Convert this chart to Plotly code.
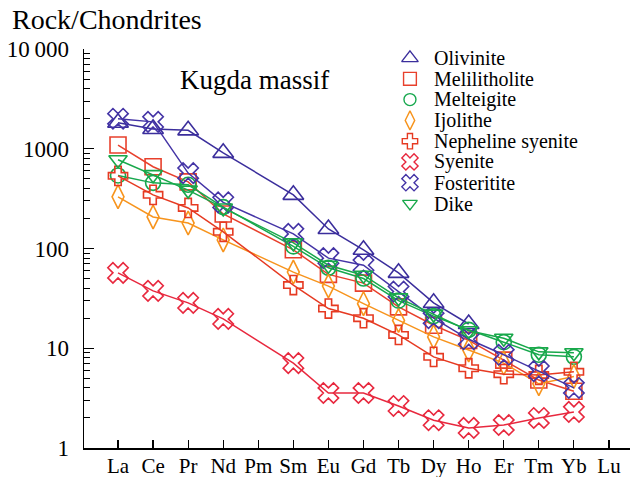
import plotly.graph_objects as go

ELEMENTS = ["La", "Ce", "Pr", "Nd", "Pm", "Sm", "Eu", "Gd", "Tb", "Dy", "Ho", "Er", "Tm", "Yb", "Lu"]

olivinite = [1820, 1580, 1530, 910, None, 345, 157, 97, 57, 28.5, 17.5, None, None, None, None]
melilitholite = [1090, 660, 465, 222, None, 97, 55, 45, 26, 17, 12, 7.6, 4.8, 3.7, None]
melteigite = [540, 455, 435, 260, None, 105, 64, 50, 30, 21, 15.3, 11.5, 8.6, 8.2, None]
ijolithe = [330, 207, 180, 122, None, 58, 42, 28, 19, 13, 9.6, 7.1, 4.4, 5.2, None]
nepheline_syenite = [535, 345, 255, 147, None, 43, 25, 20, 13.6, 8.2, 6.3, 5.5, 5.4, 5.8, None]
syenite = [57, 37.6, 28.5, 19.7, None, 7.1, 3.56, 3.56, 2.64, 1.9, 1.59, 1.7, 2.0, 2.3, None]
fosteritite = [2000, 1860, 570, 290, None, 140, 80, 68, 37, 20, 12.3, 8.6, 5.9, 4.0, None]
dike = [775, 550, 385, 255, None, 114, 68, 54, 32, 22, 15, 12.6, 9.2, 9.0, None]

Y_TICKS = [1, 10, 100, 1000, 10000]
Y_TICK_TEXT = ["1", "10", "100", "1000", "10\u2009000"]

SERIES = [
    ("Olivinite", olivinite, "#3b2e9c", "triangle-up-open", 18),
    ("Melilitholite", melilitholite, "#e8402c", "square-open", 16),
    ("Melteigite", melteigite, "#17a84e", "circle-open", 15),
    ("Ijolithe", ijolithe, "#f7941d", "diamond-tall-open", 17),
    ("Nepheline syenite", nepheline_syenite, "#e63a22", "cross-open", 16),
    ("Syenite", syenite, "#e8283e", "x-open", 18),
    ("Fosteritite", fosteritite, "#4434a6", "x-open", 18),
    ("Dike", dike, "#18a84a", "triangle-down-open", 16),
]

FONT = "Liberation Serif"
xs = list(range(len(ELEMENTS)))

fig = go.Figure()
for name, vals, color, sym, size in SERIES:
    fig.add_trace(go.Scatter(
        x=xs, y=vals, mode="lines+markers", name=name, connectgaps=True,
        line=dict(color=color, width=1.5),
        marker=dict(symbol=sym, size=size, color=color, line=dict(color=color, width=1.6)),
        showlegend=False, cliponaxis=False,
    ))

# manual legend (symbols on an overlay axis, texts as annotations)
leg_x = 0.597
leg_y0 = 0.9774
leg_step = 0.0521
for i, (name, vals, color, sym, size) in enumerate(SERIES):
    yy = leg_y0 - i * leg_step
    fig.add_trace(go.Scatter(
        x=[leg_x], y=[yy], xaxis="x2", yaxis="y2", mode="markers", showlegend=False,
        marker=dict(symbol=sym, size=size * 0.8, color=color, line=dict(color=color, width=1.4)),
        hoverinfo="skip", cliponaxis=False,
    ))
    fig.add_annotation(x=leg_x + 0.040, y=yy, xref="paper", yref="paper", text=name,
                       showarrow=False, xanchor="left", yanchor="middle",
                       font=dict(family=FONT, size=20, color="black"))

minor_vals = [m * 10 ** d for d in range(4) for m in range(2, 10)]

fig.update_layout(
    width=633, height=477,
    margin=dict(l=84, r=3, t=49, b=29),
    paper_bgcolor="white", plot_bgcolor="white",
    font=dict(family=FONT, color="black"),
    xaxis=dict(
        range=[-0.97, 14.6], tickmode="array", tickvals=xs, ticktext=ELEMENTS,
        ticks="inside", ticklen=8, tickwidth=1.2, tickcolor="black", automargin=False,
        showline=True, linecolor="black", linewidth=1.5, showgrid=False, zeroline=False,
        tickfont=dict(family=FONT, size=21, color="black"), ticklabelstandoff=-2,
    ),
    yaxis=dict(
        type="log", range=[0, 4], tickmode="array", tickvals=Y_TICKS, ticktext=Y_TICK_TEXT,
        ticks="inside", ticklen=10, tickwidth=1.2, tickcolor="black", automargin=False,
        showline=True, linecolor="black", linewidth=1.5, showgrid=False, zeroline=False,
        tickfont=dict(family=FONT, size=23, color="black"), ticklabelstandoff=9,
        minor=dict(tickmode="array", tickvals=minor_vals, ticks="inside", ticklen=6,
                   tickwidth=1, tickcolor="black", showgrid=False),
    ),
    xaxis2=dict(overlaying="x", range=[0, 1], visible=False),
    yaxis2=dict(overlaying="y", range=[0, 1], visible=False),
)

fig.add_annotation(x=-0.135, y=1.0727, xref="paper", yref="paper", text="Rock/Chondrites",
                   showarrow=False, xanchor="left", yanchor="middle",
                   font=dict(family=FONT, size=28, color="black"))
fig.add_annotation(x=0.312, y=0.922, xref="paper", yref="paper", text="Kugda massif",
                   showarrow=False, xanchor="center", yanchor="middle",
                   font=dict(family=FONT, size=27, color="black"))

fig.write_html("out.html", config={"displayModeBar": False, "staticPlot": True},
               post_script="document.body.style.margin='0';document.body.style.padding='0';")
